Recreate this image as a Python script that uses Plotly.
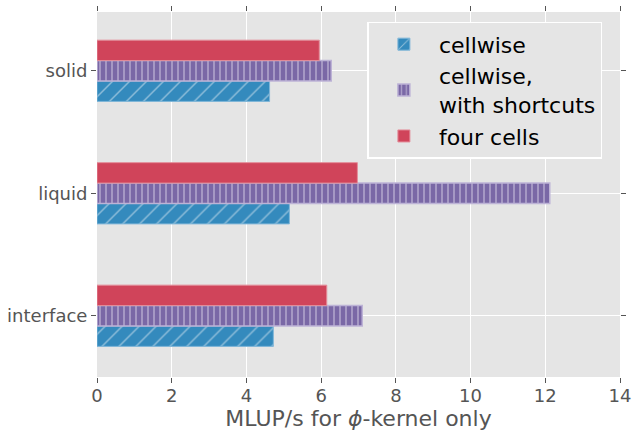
import plotly.graph_objects as go

categories = ["interface", "liquid", "solid"]
cellwise = [4.72, 5.15, 4.62]
shortcuts = [7.1, 12.12, 6.27]
four_cells = [6.15, 6.97, 5.95]
series_names = ["cellwise", "cellwise,<br>with shortcuts", "four cells"]

fig = go.Figure()
fig.add_trace(go.Bar(
    y=categories, x=cellwise, orientation="h", name=series_names[0],
    marker=dict(color="#348ABD", line=dict(color="#7FB6D8", width=1),
                pattern=dict(shape="/", fgcolor="#E8F0F6", bgcolor="#348ABD", size=12, solidity=0.12)),
))
fig.add_trace(go.Bar(
    y=categories, x=shortcuts, orientation="h", name=series_names[1],
    marker=dict(color="#7A68A6", line=dict(color="#BDB3D6", width=1.5),
                pattern=dict(shape="|", fgcolor="#D9D3E8", bgcolor="#7A68A6", size=6, solidity=0.3)),
))
fig.add_trace(go.Bar(
    y=categories, x=four_cells, orientation="h", name=series_names[2],
    marker=dict(color="#D0445A", line=dict(color="#E38C99", width=1)),
))

fig.update_layout(
    width=634, height=431,
    margin=dict(l=97, r=14, t=12, b=54, autoexpand=False),
    barmode="group", bargap=0.5, bargroupgap=0,
    plot_bgcolor="#E5E5E5", paper_bgcolor="white",
    font=dict(family="DejaVu Sans", color="#555555", size=16),
    legend=dict(x=0.517, y=0.973, xanchor="left", yanchor="top",
                bgcolor="#E5E5E5", bordercolor="white", borderwidth=1.5,
                font=dict(size=22, color="black"), traceorder="normal",
                itemwidth=60, tracegroupgap=0),
    showlegend=True,
)
fig.update_xaxes(
    range=[0, 14], dtick=2, tick0=0, showgrid=True, gridcolor="white", gridwidth=1.2,
    zeroline=False, ticks="outside", ticklen=5, tickcolor="#555555", mirror="ticks",
    showline=False, tickfont=dict(size=18, color="#555555"), automargin=False,
    ticklabelstandoff=-3,
    title=dict(text="MLUP/s for <i>ϕ</i>-kernel only", font=dict(size=22, color="#555555"), standoff=6),
)
fig.update_yaxes(
    range=[-0.5, 2.48], showgrid=True, gridcolor="white", gridwidth=1.2,
    ticks="outside", ticklen=5, tickcolor="#555555", mirror="ticks", automargin=False,
    showline=False, tickfont=dict(size=18, color="#555555"),
)

fig.write_html("out.html")
